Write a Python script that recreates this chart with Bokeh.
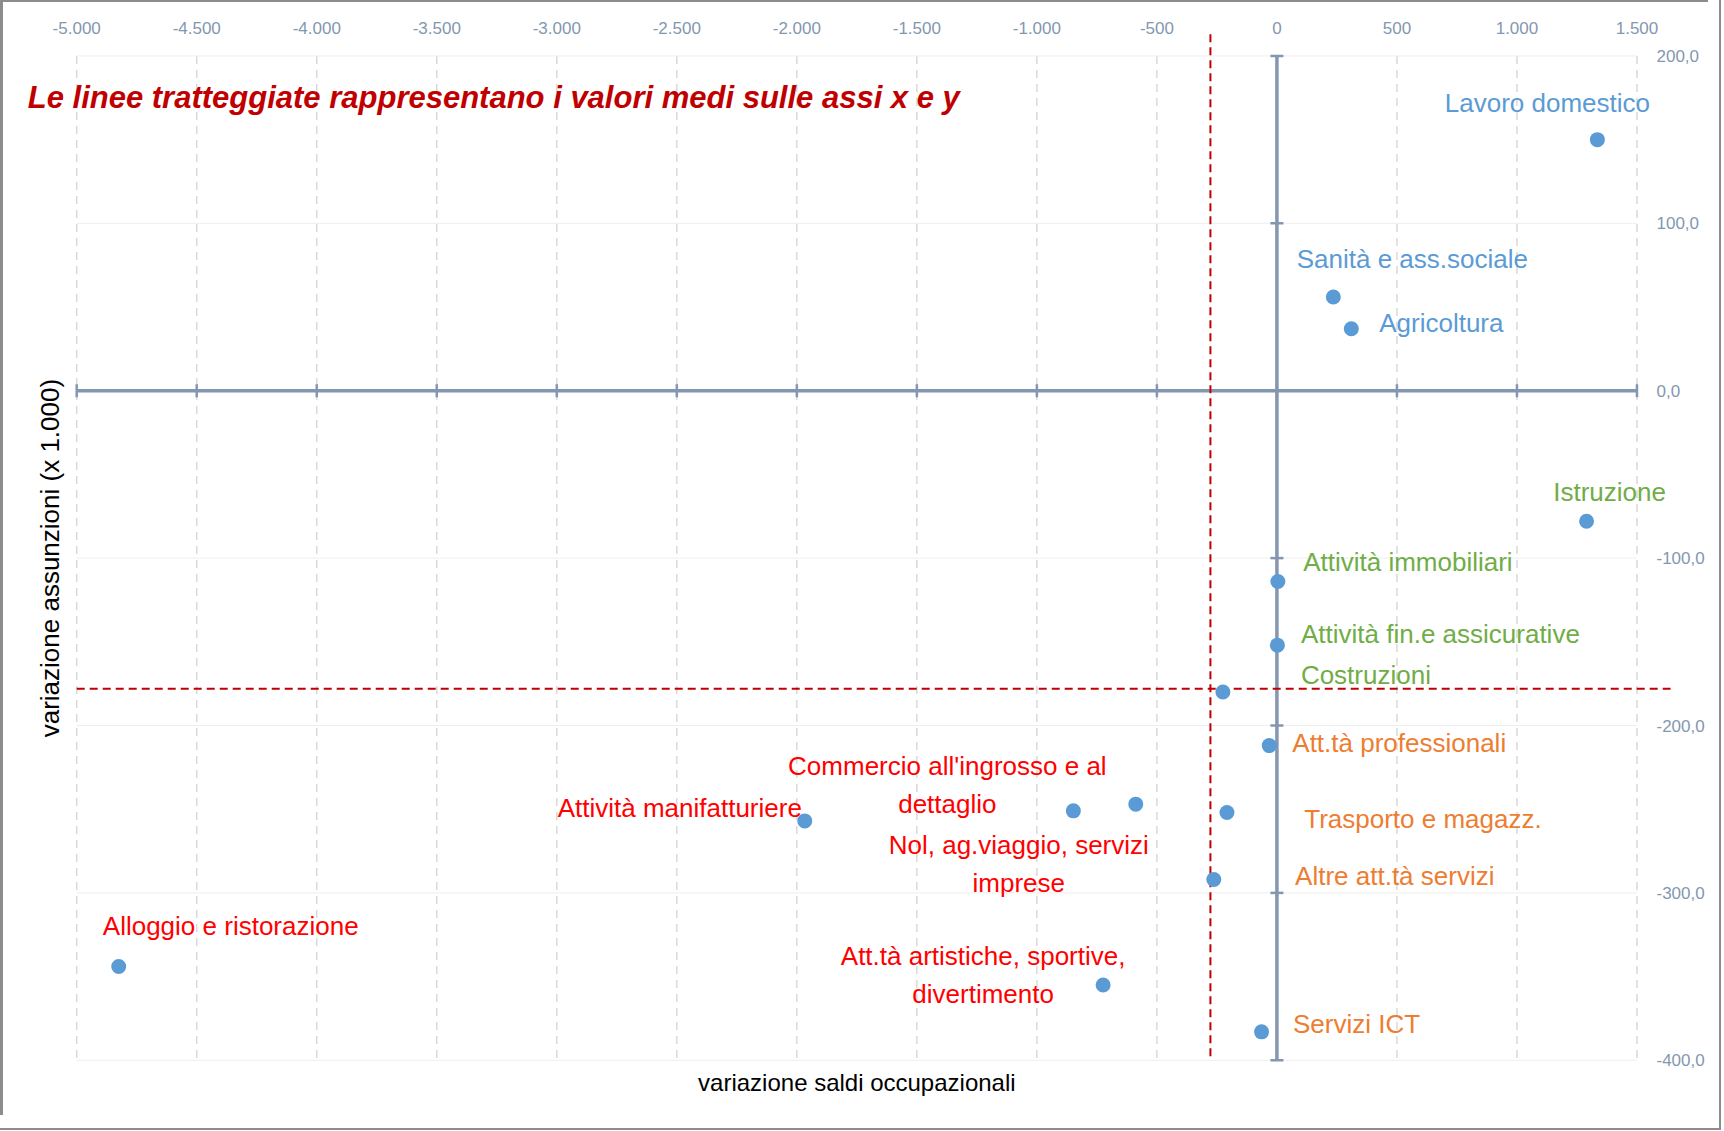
import math
from bokeh.plotting import figure
from bokeh.models import ColumnDataSource, LinearAxis, FixedTicker, Range1d, Label
from bokeh.core.properties import value
from bokeh.embed import file_html
from bokeh.resources import INLINE

# ---------------- data ----------------
sectors = [
    "Lavoro domestico",
    "Sanità e ass.sociale",
    "Agricoltura",
    "Istruzione",
    "Attività immobiliari",
    "Attività fin.e assicurative",
    "Costruzioni",
    "Att.tà professionali",
    "Trasporto e magazz.",
    "Altre att.tà servizi",
    "Servizi ICT",
    "Commercio all'ingrosso e al\ndettaglio",
    "Nol, ag.viaggio, servizi\nimprese",
    "Att.tà artistiche, sportive,\ndivertimento",
    "Attività manifatturiere",
    "Alloggio e ristorazione",
]
# variazione saldi occupazionali (x axis)
saldi = [1335, 235, 310, 1290, 4, 2, -225, -32, -208, -263, -64, -848, -588, -724, -1967, -4825]
# variazione assunzioni, x 1.000 (y axis)
assunzioni = [150, 56, 37, -78, -114, -152, -180, -212, -252, -292, -383, -251, -247, -355, -257, -344]
# quadrant group of each label
groups = ["blue", "blue", "blue", "green", "green", "green", "green",
          "orange", "orange", "orange", "orange", "red", "red", "red", "red", "red"]

# mean values (dashed lines) and the extent of the dashed-line series
mean_x = -277
mean_y = -178
mean_x_extent = [-5000, 1640]
mean_y_extent = [213, -400]

x_ticks = [-5000, -4500, -4000, -3500, -3000, -2500, -2000, -1500, -1000, -500, 0, 500, 1000, 1500]
x_tick_labels = ["-5.000", "-4.500", "-4.000", "-3.500", "-3.000", "-2.500", "-2.000",
                 "-1.500", "-1.000", "-500", "0", "500", "1.000", "1.500"]
y_ticks = [-400, -300, -200, -100, 0, 100, 200]
y_tick_labels = ["-400,0", "-300,0", "-200,0", "-100,0", "0,0", "100,0", "200,0"]

title_text = "Le linee tratteggiate rappresentano i valori medi sulle assi x e y"
x_title = "variazione saldi occupazionali"
y_title = "variazione assunzioni (x 1.000)"

# ---------------- styles ----------------
group_colors = {"blue": "#5B9BD5", "green": "#70AD47", "orange": "#ED7D31", "red": "#FF0000"}
# label offsets in screen pixels (dx right, dy down) relative to each point
label_dx = [-50, 79, 90, 23, 130, 163, 143, 130, 196, 181, 95, -126, -117, -120, -125, 112]
label_dy = [-37, -38, -6, -29, -20, -11, -17, -3, 6, -4, -8, -26, 60, -10, -13, -41]

AXIS_COLOR = "#8497B0"
FONT = "Liberation Sans"

src = ColumnDataSource(dict(
    x=saldi, y=assunzioni, label=sectors,
    color=[group_colors[g] for g in groups],
    dx=label_dx, dy=label_dy,
))

p = figure(
    width=1708, height=1115,
    x_range=Range1d(-5205, 1648), y_range=Range1d(-430, 214),
    x_axis_location=None, y_axis_location=None,
    toolbar_location=None, output_backend="svg",
    min_border_left=27, min_border_right=36, min_border_top=32, min_border_bottom=5,
    outline_line_color=None, background_fill_color="white", border_fill_color=None,
)
p.grid.grid_line_color = None
p.styles = {
    "box-shadow": "inset 3px 2px 0 0 #8C8C8C, -2px 0 0 13px #FFFFFF, -2px 0 0 15px #8C8C8C",
}

# top x axis
xax = LinearAxis(
    ticker=FixedTicker(ticks=x_ticks),
    major_label_overrides={t: l for t, l in zip(x_ticks, x_tick_labels)},
    axis_line_color=None, major_tick_line_color=None, minor_tick_line_color=None,
    major_tick_out=0, major_tick_in=0, major_label_standoff=-1,
    major_label_text_font=FONT, major_label_text_font_size="17px",
    major_label_text_color=AXIS_COLOR,
)
p.add_layout(xax, "above")

# right y axis
yax = LinearAxis(
    ticker=FixedTicker(ticks=y_ticks),
    major_label_overrides={t: l for t, l in zip(y_ticks, y_tick_labels)},
    axis_line_color=None, major_tick_line_color=None, minor_tick_line_color=None,
    major_tick_out=0, major_tick_in=0, major_label_standoff=-16,
    major_label_text_font=FONT, major_label_text_font_size="17px",
    major_label_text_color=AXIS_COLOR,
)
p.add_layout(yax, "right")

# grid lines
p.segment(x0=x_ticks, y0=y_ticks[-1], x1=x_ticks, y1=y_ticks[0],
          line_color="#D9D9D9", line_width=1.5, line_dash="8 6")
p.segment(x0=x_ticks[0], y0=y_ticks, x1=x_ticks[-1], y1=y_ticks,
          line_color="#EEEEEE", line_width=1)

# zero axes with crossing ticks
p.segment(x0=x_ticks[0], y0=0, x1=x_ticks[-1], y1=0, line_color=AXIS_COLOR, line_width=3.5)
p.segment(x0=0, y0=y_ticks[0], x1=0, y1=y_ticks[-1], line_color=AXIS_COLOR, line_width=3.5)
p.scatter(x=x_ticks, y=[0] * len(x_ticks), marker="dash", size=13, angle=math.pi / 2,
          line_color=AXIS_COLOR, line_width=2.5)
p.scatter(x=[0] * len(y_ticks), y=y_ticks, marker="dash", size=13,
          line_color=AXIS_COLOR, line_width=2.5)

# mean lines
p.line(x=[mean_x, mean_x], y=mean_y_extent, line_color="#C00000", line_width=2, line_dash="8 5")
p.line(x=mean_x_extent, y=[mean_y, mean_y], line_color="#C00000", line_width=2, line_dash="8 5")

# points
p.scatter(x="x", y="y", size=15, fill_color="#5B9BD5", line_color=None, source=src)

# data labels
p.text(x="x", y="y", text="label", x_offset="dx", y_offset="dy", text_color="color",
       text_font=value(FONT), text_font_size="26px", text_align="center",
       text_baseline="middle", text_line_height=1.26, source=src)

# titles
p.add_layout(Label(x=-5204, y=175.1, text=title_text, text_font=FONT, text_font_size="31px",
                   text_font_style="bold italic", text_color="#C00000",
                   text_align="left", text_baseline="alphabetic"))
p.add_layout(Label(x=(x_ticks[0] + x_ticks[-1]) / 2, y=-413.2, text=x_title, text_font=FONT,
                   text_font_size="24px", text_color="#000000",
                   text_align="center", text_baseline="alphabetic"))
p.add_layout(Label(x=-5113, y=(y_ticks[0] + y_ticks[-1]) / 2, text=y_title, angle=math.pi / 2,
                   text_font=FONT, text_font_size="26px", text_color="#000000",
                   text_align="center", text_baseline="middle"))

open("out.html", "w").write(file_html(p, INLINE))
